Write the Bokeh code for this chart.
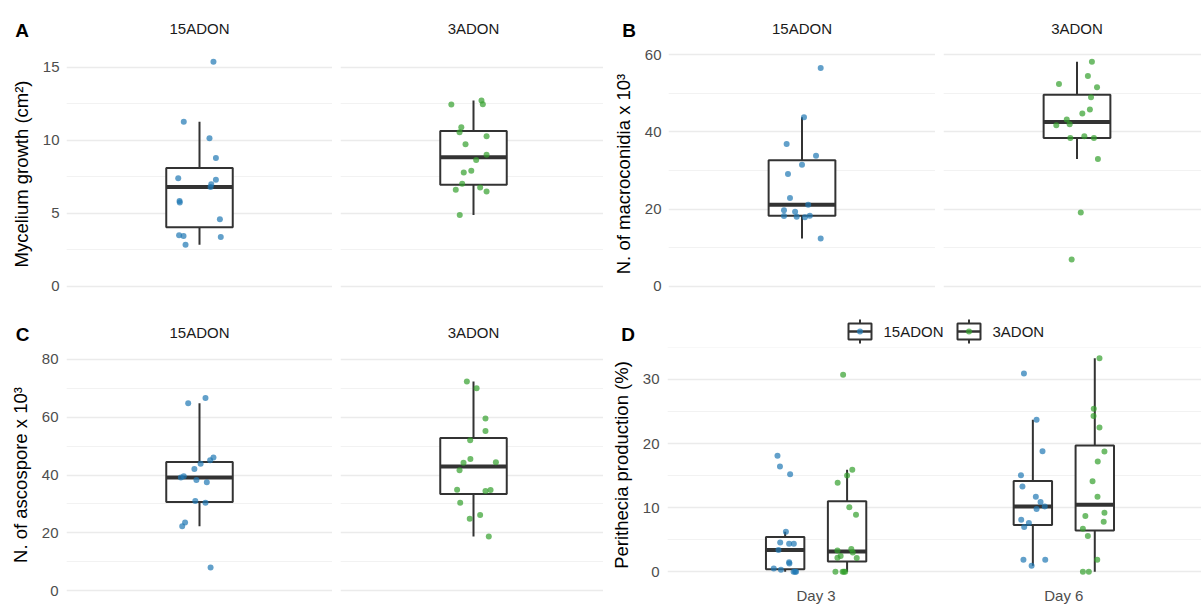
import numpy as np
from bokeh.plotting import figure
from bokeh.layouts import row, column
from bokeh.models import Range1d, FixedTicker
from bokeh.core.properties import value
from bokeh.embed import file_html
from bokeh.resources import INLINE

FONT = "Liberation Sans"

# ---------------- data ----------------
strains = ["15ADON", "3ADON"]
days = ["Day 3", "Day 6"]
strain_colors = ["#1F78B4", "#33A02C"]
panel_tags = ["A", "B", "C", "D"]
y_titles = ["Mycelium growth (cm\u00b2)", "N. of macroconidia x 10\u00b3",
            "N. of ascospore x 10\u00b3", "Perithecia production (%)"]

# Panel A: mycelium growth
a_15 = [15.39, 11.27, 10.14, 8.79, 7.41, 7.30, 7.00, 6.81, 5.85, 5.75, 4.59, 3.49, 3.44, 3.37, 2.85]
a_15_jit = [0.063, -0.071, 0.045, 0.074, -0.096, 0.074, 0.053, 0.050, -0.090, -0.089, 0.092, -0.092, -0.072, 0.096, -0.063]
a_3 = [12.46, 12.73, 12.48, 10.90, 10.56, 10.28, 9.73, 9.02, 8.65, 7.92, 7.80, 7.02, 6.61, 6.77, 6.50, 4.89]
a_3_jit = [-0.100, 0.036, 0.042, -0.055, -0.063, 0.059, -0.036, 0.059, 0.012, -0.010, -0.044, -0.051, -0.080, 0.030, 0.059, -0.062]

# Panel B: macroconidia
b_15 = [56.55, 43.8, 36.9, 33.8, 31.5, 29.1, 22.9, 21.1, 19.7, 19.3, 18.2, 18.0, 17.9, 18.3, 12.4]
b_15_jit = [0.084, 0.009, -0.069, 0.063, 0.000, -0.063, -0.054, 0.028, -0.081, -0.031, -0.081, -0.024, 0.013, 0.035, 0.084]
b_3 = [58.2, 54.5, 52.4, 51.6, 49.0, 45.8, 44.8, 43.2, 42.0, 41.75, 38.4, 38.9, 38.4, 33.0, 19.1, 6.97]
b_3_jit = [0.067, 0.049, -0.081, 0.090, 0.063, 0.058, 0.024, -0.046, -0.033, -0.093, -0.030, 0.033, 0.076, 0.094, 0.017, -0.024]

# Panel C: ascospores
c_15 = [64.8, 66.6, 46.0, 45.1, 43.9, 42.1, 39.6, 39.1, 38.3, 37.5, 31.0, 30.4, 23.6, 22.3, 8.05]
c_15_jit = [-0.051, 0.027, 0.063, 0.048, 0.005, -0.023, -0.071, -0.084, -0.014, 0.033, -0.019, 0.027, -0.065, -0.078, 0.050]
c_3 = [72.3, 69.9, 59.5, 55.2, 52.0, 45.5, 44.4, 44.2, 41.6, 34.9, 34.5, 34.8, 30.4, 26.2, 24.9, 18.75]
c_3_jit = [-0.030, 0.014, 0.054, 0.054, -0.015, -0.014, 0.101, -0.045, -0.063, -0.074, 0.054, 0.077, -0.060, 0.030, -0.017, 0.069]

# Panel D: perithecia production (%)
d_day3_15 = [18.1, 16.4, 15.2, 6.25, 4.58, 4.38, 4.38, 3.4, 1.5, 1.3, 0.52, 0.31, 0.0, 0.0, 0.0]
d_day3_15_jit = [-0.031, -0.021, 0.020, 0.003, -0.020, 0.016, 0.035, -0.027, 0.016, 0.017, -0.046, -0.017, 0.034, 0.044, 0.040]
d_day3_3 = [30.7, 15.9, 15.0, 13.9, 10.05, 8.9, 3.55, 3.33, 3.02, 2.45, 2.19, 2.14, 0.0, 0.0, 0.0, 0.0]
d_day3_3_jit = [-0.016, 0.021, 0.000, -0.038, 0.009, 0.036, 0.017, -0.039, 0.023, -0.026, -0.039, 0.039, -0.047, -0.018, -0.008, -0.013]
d_day6_15 = [30.9, 23.7, 18.8, 15.05, 13.3, 11.7, 10.9, 10.2, 9.8, 8.1, 7.6, 7.0, 1.87, 1.87, 0.94]
d_day6_15_jit = [-0.036, 0.015, 0.039, -0.048, -0.042, 0.012, 0.031, 0.048, 0.015, -0.047, -0.016, -0.035, -0.038, 0.050, -0.005]
d_day6_3 = [33.3, 25.4, 24.3, 22.5, 18.75, 17.2, 14.1, 11.7, 8.7, 9.2, 7.8, 6.7, 5.6, 1.87, 0.0, 0.0]
d_day6_3_jit = [0.019, -0.004, -0.005, 0.019, 0.039, 0.012, -0.009, 0.011, -0.038, 0.039, 0.036, -0.048, -0.028, 0.010, -0.048, -0.024]

a_ticks, a_minor = [0, 5, 10, 15], [2.5, 7.5, 12.5]
b_ticks, b_minor = [0, 20, 40, 60], [10, 30, 50]
c_ticks, c_minor = [0, 20, 40, 60, 80], [10, 30, 50, 70]
d_ticks, d_minor = [0, 10, 20, 30], [5, 15, 25, 35]
c_limits = [0, 80]

# ---------------- style / geometry ----------------
BOX_LINE = "#333333"
GRID = "#EBEBEB"
TOTAL_W = 1201
F1 = 266                       # facet frame width (panels A, C)
GAP = 8                        # space between facets
SC = F1 / 1.2                  # px per x unit (A, C)
W_A2 = 263                     # right facet (cut at the panel edge)
W_B1, W_B2 = 267, 258
SC_B = W_B1 / 1.2
W_D = 534
SC_D = 247.7
A1_L = 66
A2_L = A1_L + F1 + GAP
B1_L = A2_L + W_A2 + 65
B2_L = B1_L + W_B1 + GAP
D_L = A2_L + W_A2 + 64
HEAD1, HEAD2 = 45, 26


def stats(v):
    v = np.asarray(v, dtype=float)
    q1, med, q3 = np.percentile(v, [25, 50, 75])
    iqr = q3 - q1
    lo = v[v >= q1 - 1.5 * iqr].min()
    hi = v[v <= q3 + 1.5 * iqr].max()
    return q1, med, q3, lo, hi


def draw_boxes(p, centers, groups, width):
    st = np.array([stats(g) for g in groups])
    q1, med, q3, lo, hi = st.T
    c = np.asarray(centers, dtype=float)
    p.segment(x0=np.r_[c, c], y0=np.r_[q3, q1], x1=np.r_[c, c], y1=np.r_[hi, lo],
              line_color=BOX_LINE, line_width=2)
    p.quad(left=c - width / 2, right=c + width / 2, bottom=q1, top=q3,
           fill_color="white", line_color=BOX_LINE, line_width=2)
    p.segment(x0=c - width / 2, x1=c + width / 2, y0=med, y1=med,
              line_color=BOX_LINE, line_width=4)


def draw_points(p, centers, groups, offsets, color):
    xs = np.concatenate([c + np.asarray(o, dtype=float) for c, o in zip(centers, offsets)])
    ys = np.concatenate([np.asarray(g, dtype=float) for g in groups])
    p.scatter(x=xs, y=ys, size=6, fill_color=color, fill_alpha=0.7, line_color=None)


def expand(lo, hi, mult=0.05):
    r = hi - lo
    return lo - mult * r, hi + mult * r


def style_axis(ax, standoff):
    ax.axis_line_color = None
    ax.major_tick_line_color = None
    ax.minor_tick_line_color = None
    ax.major_tick_out = 0
    ax.major_tick_in = 0
    ax.minor_tick_out = 0
    ax.minor_tick_in = 0
    ax.major_label_text_font = FONT
    ax.major_label_text_font_size = "15px"
    ax.major_label_text_color = "#4D4D4D"
    ax.major_label_standoff = standoff


def panel(frame_w, frame_h, x_end, y_rng, left, top, bottom, ticks, minor,
          ylabel=None, xaxis=False, ystandoff=7, xstandoff=4):
    p = figure(frame_width=frame_w, frame_height=frame_h,
               x_range=Range1d(0.4, x_end), y_range=Range1d(*y_rng),
               min_border_left=left, min_border_right=0, min_border_top=top,
               min_border_bottom=bottom,
               x_axis_location="below" if xaxis else None,
               y_axis_location="left" if ylabel else None,
               toolbar_location=None, output_backend="svg", title=None,
               background_fill_color="white", border_fill_color="white",
               outline_line_color=None)
    p.xgrid.visible = False
    p.ygrid.ticker = FixedTicker(ticks=ticks, minor_ticks=minor)
    p.ygrid.grid_line_color = GRID
    p.ygrid.grid_line_width = 1.4
    p.ygrid.minor_grid_line_color = "#F0F0F0"
    p.ygrid.minor_grid_line_width = 0.9
    if ylabel:
        ax = p.yaxis[0]
        ax.ticker = FixedTicker(ticks=ticks)
        ax.axis_label = ylabel
        ax.axis_label_text_font = FONT
        ax.axis_label_text_font_size = "18.5px"
        ax.axis_label_text_font_style = "normal"
        ax.axis_label_text_color = "black"
        ax.axis_label_standoff = 8
        style_axis(ax, ystandoff)
    if xaxis:
        style_axis(p.xaxis[0], xstandoff)
    return p


def header(height):
    h = figure(width=TOTAL_W, height=height, x_range=Range1d(0, TOTAL_W),
               y_range=Range1d(height, 0), min_border=0,
               x_axis_location=None, y_axis_location=None, toolbar_location=None,
               output_backend="svg", title=None, outline_line_color=None,
               background_fill_color="white", border_fill_color="white")
    h.xgrid.visible = False
    h.ygrid.visible = False
    return h


def put_text(h, xs, ys, texts, size, color, style="normal", align="center"):
    h.text(x=list(xs), y=list(ys), text=list(texts), text_font=value(FONT),
           text_font_size=value(size), text_color=color, text_font_style=style,
           text_align=align, text_baseline="middle")


# ---------------- row 1 ----------------
ya = expand(0, max(max(a_15), max(a_3)))
yb = expand(0, max(max(b_15), max(b_3)))
R1_TOP, R1_FH, R1_BOT = 5, 247, 21

A1 = panel(F1, R1_FH, 1.6, ya, A1_L, R1_TOP, R1_BOT, a_ticks, a_minor, ylabel=y_titles[0])
A2 = panel(W_A2, R1_FH, 0.4 + W_A2 / SC, ya, GAP, R1_TOP, R1_BOT, a_ticks, a_minor)
B1 = panel(W_B1, R1_FH, 1.6, yb, B1_L - (A2_L + W_A2), R1_TOP, R1_BOT, b_ticks, b_minor,
           ylabel=y_titles[1])
B2 = panel(W_B2, R1_FH, 0.4 + W_B2 / SC_B, yb, GAP, R1_TOP, R1_BOT, b_ticks, b_minor)

# ---------------- row 2 ----------------
yc = expand(*c_limits)
C1 = panel(F1, 255, 1.6, yc, A1_L, 2, 3, c_ticks, c_minor, ylabel=y_titles[2], ystandoff=8)
C2 = panel(W_A2, 255, 0.4 + W_A2 / SC, yc, GAP, 2, 3, c_ticks, c_minor)

yd_hi = max(max(d_day3_15), max(d_day3_3), max(d_day6_15), max(d_day6_3))
D = panel(W_D, 235, 0.4 + W_D / SC_D, expand(0, yd_hi), D_L - (A2_L + W_A2), 3, 22,
          d_ticks, d_minor, ylabel=y_titles[3], xaxis=True, ystandoff=8, xstandoff=4)
D.xaxis.ticker = FixedTicker(ticks=[1, 2])
D.xaxis.major_label_overrides = {1: days[0], 2: days[1]}

facet_sets = [
    (A1, A2, a_15, a_15_jit, a_3, a_3_jit),
    (B1, B2, b_15, b_15_jit, b_3, b_3_jit),
    (C1, C2, c_15, c_15_jit, c_3, c_3_jit),
]
for f1, f2, v15, j15, v3, j3 in facet_sets:
    draw_boxes(f1, [1], [v15], 0.3)
    draw_points(f1, [1], [v15], [j15], strain_colors[0])
    draw_boxes(f2, [1], [v3], 0.3)
    draw_points(f2, [1], [v3], [j3], strain_colors[1])

# Panel D: dodged boxes
dodge = 0.125
x15 = [1 - dodge, 2 - dodge]
x3 = [1 + dodge, 2 + dodge]
draw_boxes(D, x15, [d_day3_15, d_day6_15], 0.155)
draw_boxes(D, x3, [d_day3_3, d_day6_3], 0.155)
draw_points(D, x15, [d_day3_15, d_day6_15], [d_day3_15_jit, d_day6_15_jit], strain_colors[0])
draw_points(D, x3, [d_day3_3, d_day6_3], [d_day3_3_jit, d_day6_3_jit], strain_colors[1])

# ---------------- headers: panel tags, facet strips, legend ----------------
strip_x_top = [A1_L + 0.6 * SC, A2_L + 0.6 * SC, B1_L + 0.6 * SC_B, B2_L + 0.6 * SC_B]
H1 = header(HEAD1)
put_text(H1, [21.6, B1_L - 39.5], [30, 30], panel_tags[:2], "19px", "black", "bold")
put_text(H1, strip_x_top, [28.3] * 4, strains * 2, "15px", "#1A1A1A")

H2 = header(HEAD2)
put_text(H2, [22, D_L - 39.5], [15.5, 15.5], panel_tags[2:], "19px", "black", "bold")
put_text(H2, strip_x_top[:2], [13.7, 13.7], strains, "15px", "#1A1A1A")

# legend (ggplot boxplot keys) centred over panel D
key_w, key_box_h, key_whisk_h, key_gap, item_gap = 23, 16, 24, 12, 14
key_cy = 13
label_w = [60, 52]
leg_left = D_L + 181
key_cx, lab_x = [], []
cur = leg_left
for lw in label_w:
    key_cx.append(cur + key_w / 2)
    lab_x.append(cur + key_w + key_gap)
    cur += key_w + key_gap + lw + item_gap
kc = np.array(key_cx)
H2.segment(x0=kc, x1=kc, y0=key_cy - key_whisk_h / 2, y1=key_cy + key_whisk_h / 2,
           line_color=BOX_LINE, line_width=2)
H2.quad(left=kc - key_w / 2, right=kc + key_w / 2, top=key_cy - key_box_h / 2,
        bottom=key_cy + key_box_h / 2, fill_color="white", line_color=BOX_LINE, line_width=2)
H2.segment(x0=kc - key_w / 2, x1=kc + key_w / 2, y0=[key_cy] * 2, y1=[key_cy] * 2,
           line_color=BOX_LINE, line_width=2.5)
H2.scatter(x=kc, y=[key_cy] * 2, size=6, fill_color=strain_colors, fill_alpha=0.7, line_color=None)
put_text(H2, lab_x, [key_cy] * 2, strains, "15px", "#1A1A1A", align="left")

layout = column(
    H1,
    row(A1, A2, B1, B2, spacing=0),
    H2,
    row(C1, C2, D, spacing=0),
    spacing=0,
)

with open("out.html", "w") as fh:
    fh.write(file_html(layout, INLINE))
